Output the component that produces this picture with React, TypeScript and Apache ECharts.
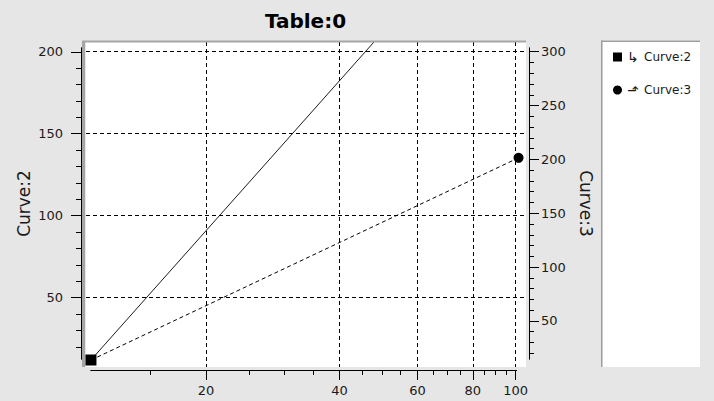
import React, { useEffect, useRef } from "react";
import * as echarts from "echarts";

// ---- data ----
const chartTitle = "Table:0";
const seriesNames = ["Curve:2", "Curve:3"];
const legendArrows = ["↳", "⬏"];
const curve2X = [11, 100];
const curve2Y = [12, 303];
const curve3X = [11, 101.5];
const curve3Y = [13.7, 201.5];

const xMajorTicks = [20, 40, 60, 80, 100];
const xMinorTicks = [15, 20, 25, 30, 35, 40, 45, 50, 55, 60, 65, 70, 75, 80, 85, 90, 95, 100];
const leftMajorTicks = [50, 100, 150, 200];
const leftMinorTicks = [20, 30, 40, 50, 60, 70, 80, 90, 100, 110, 120, 130, 140, 150, 160, 170, 180, 190, 200];
const rightMajorTicks = [50, 100, 150, 200, 250, 300];
const rightMinorTicks = [
  20, 30, 40, 50, 60, 70, 80, 90, 100, 110, 120, 130, 140, 150, 160, 170, 180, 190, 200,
  210, 220, 230, 240, 250, 260, 270, 280, 290, 300,
];

// axis ranges (outer = plotting canvas, inner = drawn axes)
const xOuter = [10.72, 105.5];
const xInner = [11.0, 100.4];
const leftOuter = [7.74, 205.9];
const leftInner = [12.6, 202.3];
const rightOuter = [7.3, 309.0];
const rightInner = [14.7, 303.4];

const FONT = "DejaVu Sans";
const INK = "#000";
const TXT = "#1a1a1a";

function zip(xs: number[], ys: number[]) {
  return xs.map((x, i) => [x, ys[i]]);
}

export default function App() {
  const ref = useRef<HTMLDivElement>(null);

  useEffect(() => {
    if (!ref.current) return;
    const chart = echarts.init(ref.current, undefined, { renderer: "svg" });

    const hidden = {
      axisLine: { show: false, onZero: false },
      axisTick: { show: false },
      axisLabel: { show: false },
      splitLine: { show: false },
    };
    const dashed = { show: true, lineStyle: { color: INK, width: 1, type: [4, 3] } };
    const labelStyle = { fontFamily: FONT, fontSize: 13, color: TXT };

    const option: any = {
      animation: false,
      backgroundColor: "#e6e6e6",
      grid: [
        { left: 86, top: 42, width: 440, height: 325, show: true, backgroundColor: "#ffffff", borderWidth: 0 },
        { left: 91, top: 48, width: 425.5, height: 311, show: false },
      ],
      xAxis: [
        {
          gridIndex: 0, type: "log", logBase: 10, min: xOuter[0], max: xOuter[1], position: "bottom",
          ...hidden,
          axisTick: { show: false, customValues: xMajorTicks },
          axisLabel: { show: false, customValues: xMajorTicks },
          splitLine: dashed,
        },
        {
          gridIndex: 1, type: "log", logBase: 10, min: xInner[0], max: xInner[1], position: "bottom", offset: 11,
          axisLine: { show: true, onZero: false, lineStyle: { color: INK, width: 1 } },
          axisTick: { show: true, customValues: xMajorTicks, length: 10, lineStyle: { color: INK, width: 1 } },
          axisLabel: { show: true, customValues: xMajorTicks, margin: 14, ...labelStyle },
          splitLine: { show: false },
        },
        {
          gridIndex: 1, type: "log", logBase: 10, min: xInner[0], max: xInner[1], position: "bottom", offset: 11,
          axisLine: { show: true, onZero: false, lineStyle: { color: INK, width: 1 } },
          axisTick: { show: true, customValues: xMinorTicks, length: 5, lineStyle: { color: INK, width: 1 } },
          axisLabel: { show: false },
          splitLine: { show: false },
        },
      ],
      yAxis: [
        {
          gridIndex: 0, type: "value", min: leftOuter[0], max: leftOuter[1], position: "left",
          ...hidden,
          axisTick: { show: false, customValues: leftMajorTicks },
          axisLabel: { show: false, customValues: leftMajorTicks },
          splitLine: dashed,
        },
        {
          gridIndex: 0, type: "value", min: rightOuter[0], max: rightOuter[1], position: "right",
          ...hidden,
        },
        {
          gridIndex: 1, type: "value", min: leftInner[0], max: leftInner[1], position: "left", offset: 10,
          name: seriesNames[0], nameLocation: "middle", nameGap: 49, nameMoveOverlap: false,
          nameTextStyle: { fontFamily: FONT, fontSize: 17, color: TXT },
          axisLine: { show: true, onZero: false, lineStyle: { color: INK, width: 1 } },
          axisTick: { show: true, customValues: leftMajorTicks, length: 10, lineStyle: { color: INK, width: 1 } },
          axisLabel: { show: true, customValues: leftMajorTicks, margin: 18, ...labelStyle },
          splitLine: { show: false },
        },
        {
          gridIndex: 1, type: "value", min: leftInner[0], max: leftInner[1], position: "left", offset: 10,
          axisLine: { show: true, onZero: false, lineStyle: { color: INK, width: 1 } },
          axisTick: { show: true, customValues: leftMinorTicks, length: 5, lineStyle: { color: INK, width: 1 } },
          axisLabel: { show: false },
          splitLine: { show: false },
        },
        {
          gridIndex: 1, type: "value", min: rightInner[0], max: rightInner[1], position: "right", offset: 12.5,
          name: seriesNames[1], nameLocation: "middle", nameGap: 48, nameRotate: -90, nameMoveOverlap: false,
          nameTextStyle: { fontFamily: FONT, fontSize: 17, color: TXT },
          axisLine: { show: true, onZero: false, lineStyle: { color: INK, width: 1 } },
          axisTick: { show: true, customValues: rightMajorTicks, length: 10, lineStyle: { color: INK, width: 1 } },
          axisLabel: { show: true, customValues: rightMajorTicks, margin: 12, ...labelStyle },
          splitLine: { show: false },
        },
        {
          gridIndex: 1, type: "value", min: rightInner[0], max: rightInner[1], position: "right", offset: 12.5,
          axisLine: { show: true, onZero: false, lineStyle: { color: INK, width: 1 } },
          axisTick: { show: true, customValues: rightMinorTicks, length: 5, lineStyle: { color: INK, width: 1 } },
          axisLabel: { show: false },
          splitLine: { show: false },
        },
      ],
      legend: {
        orient: "vertical",
        left: 608,
        top: 45,
        itemWidth: 9,
        itemHeight: 9,
        itemGap: 19,
        selectedMode: false,
        data: [
          { name: seriesNames[0], icon: "rect" },
          { name: seriesNames[1], icon: "circle" },
        ],
        formatter: (name: string) => `{arr|${legendArrows[seriesNames.indexOf(name)]}}${name}`,
        textStyle: {
          fontFamily: FONT,
          fontSize: 12,
          color: TXT,
          rich: { arr: { width: 17, fontFamily: FONT, fontSize: 14, color: TXT } },
        },
      },
      graphic: [
        {
          type: "text", x: 305.5, y: 21, z: 10,
          style: { text: chartTitle, fontFamily: FONT, fontWeight: "bold", fontSize: 20, fill: "#000", align: "center", verticalAlign: "middle" },
        },
        { type: "rect", z: 5, shape: { x: 82, y: 41, width: 3, height: 326 }, style: { fill: "#a6a6a6" } },
        { type: "rect", z: 5, shape: { x: 82, y: 40.5, width: 444, height: 2 }, style: { fill: "#a6a6a6" } },
        { type: "rect", z: 0, shape: { x: 601, y: 40.5, width: 99, height: 326.5 }, style: { fill: "#ffffff" } },
        { type: "rect", z: 1, shape: { x: 601, y: 40.5, width: 1.5, height: 326.5 }, style: { fill: "#9c9c9c" } },
        { type: "rect", z: 1, shape: { x: 601, y: 40.5, width: 99, height: 1.5 }, style: { fill: "#9c9c9c" } },
      ],
      series: [
        {
          name: seriesNames[0], type: "line", xAxisIndex: 0, yAxisIndex: 0,
          data: zip(curve2X, curve2Y),
          symbol: "rect", symbolSize: 11, showSymbol: true, z: 3,
          itemStyle: { color: INK },
          lineStyle: { color: INK, width: 0.9, type: "solid" },
        },
        {
          name: seriesNames[1], type: "line", xAxisIndex: 0, yAxisIndex: 1,
          data: zip(curve3X, curve3Y),
          symbol: "circle", symbolSize: 10, showSymbol: true, z: 2,
          itemStyle: { color: INK },
          lineStyle: { color: INK, width: 1, type: [4, 3] },
        },
      ],
    };

    chart.setOption(option);
    return () => chart.dispose();
  }, []);

  return (
    <div
      ref={ref}
      style={{ position: "fixed", left: 0, top: 0, width: 714, height: 401 }}
    />
  );
}
